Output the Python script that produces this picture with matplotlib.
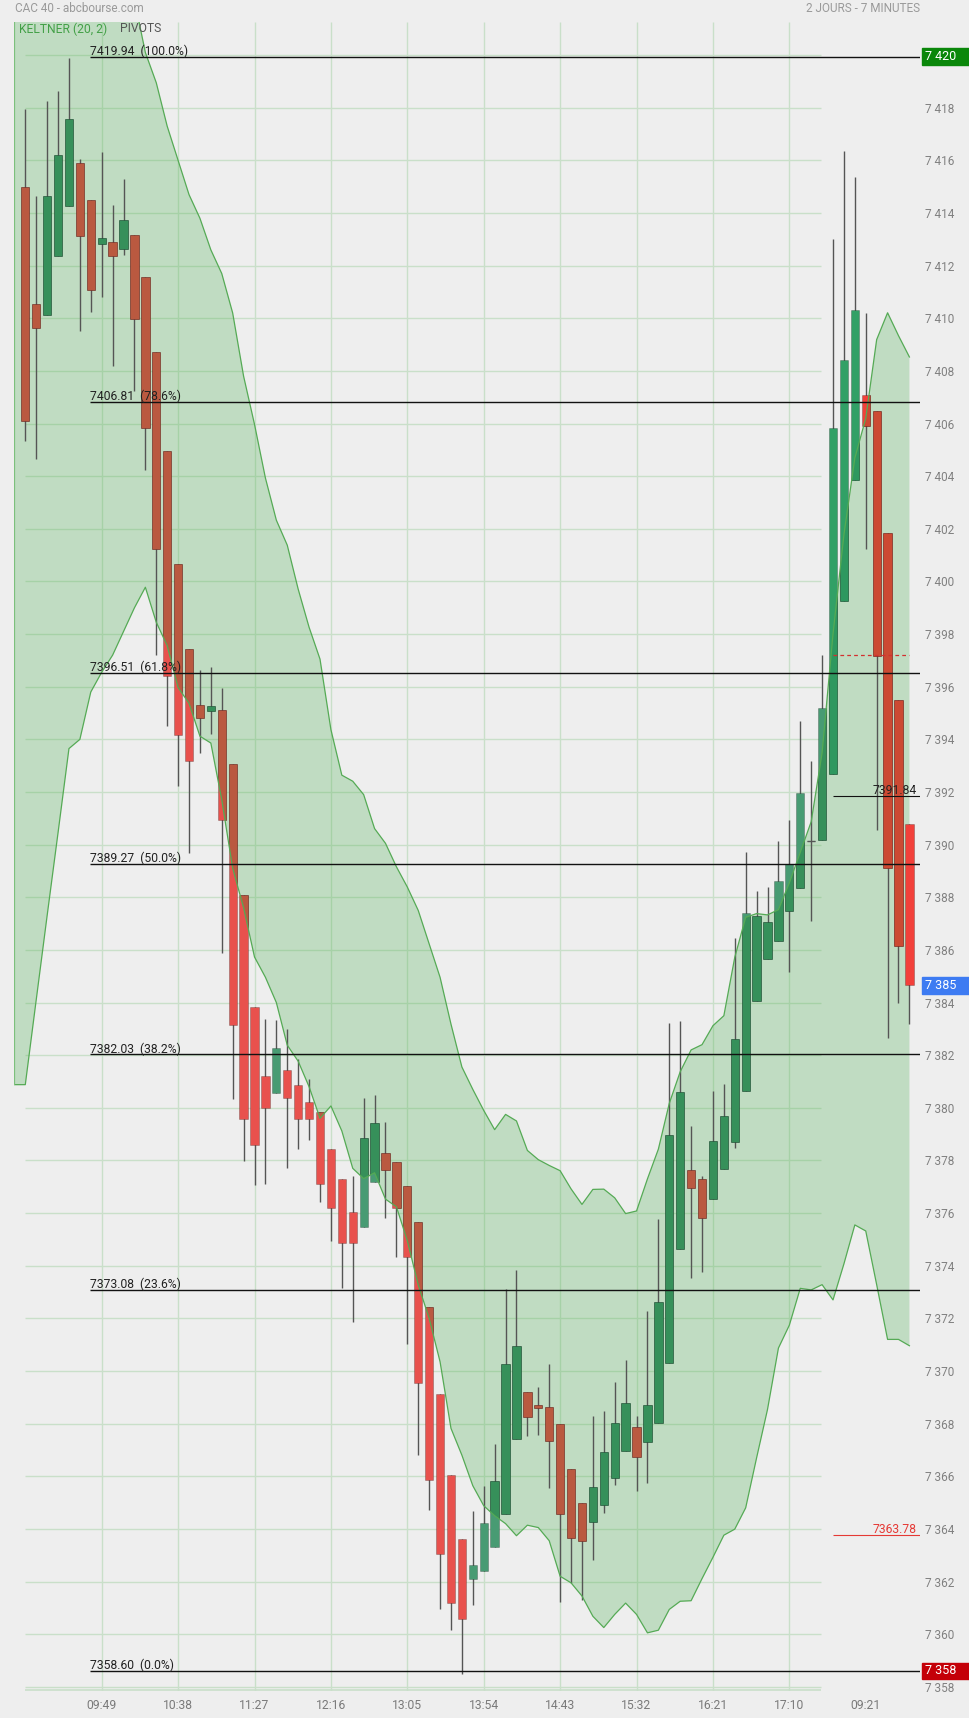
import matplotlib
matplotlib.use('Agg')
import matplotlib.pyplot as plt
import numpy as np
from matplotlib.patches import Rectangle, Polygon

# police
plt.rcParams['font.family'] = ['Roboto', 'DejaVu Sans']

# bougies 7 minutes (2 jours) - ouverture / plus haut / plus bas / cloture
opens = [7414.99, 7410.55, 7410.11, 7412.35, 7414.28, 7415.91, 7414.50, 7412.81, 7412.91, 7412.65,
         7413.17, 7411.58, 7408.72, 7404.97, 7400.67, 7397.44, 7395.31, 7395.07, 7395.13, 7393.06,
         7388.08, 7383.84, 7381.21, 7380.56, 7381.44, 7380.88, 7380.23, 7379.84, 7378.44, 7377.30,
         7376.05, 7375.49, 7377.17, 7378.29, 7377.93, 7377.04, 7375.67, 7372.44, 7369.13, 7366.05,
         7363.61, 7362.11, 7362.40, 7363.31, 7364.55, 7367.40, 7369.22, 7368.72, 7368.64, 7367.98,
         7366.27, 7364.98, 7364.26, 7364.90, 7365.93, 7366.95, 7367.86, 7367.30, 7368.02, 7370.29,
         7374.63, 7377.63, 7377.28, 7376.53, 7377.67, 7378.69, 7380.64, 7384.04, 7385.64, 7386.34,
         7387.47, 7388.34, 7390.15, 7390.18, 7392.68, 7399.25, 7403.84, 7407.10, 7406.49, 7401.84,
         7395.50, 7390.79]
highs = [7417.95, 7414.64, 7418.25, 7418.63, 7419.90, 7416.07, 7414.50, 7416.31, 7414.30, 7415.31,
         7413.17, 7411.58, 7408.72, 7404.97, 7400.67, 7397.44, 7396.62, 7396.74, 7395.97, 7393.06,
         7388.08, 7383.84, 7383.39, 7383.32, 7382.98, 7381.84, 7381.08, 7379.84, 7378.44, 7377.30,
         7377.40, 7380.38, 7380.48, 7379.46, 7377.93, 7377.04, 7375.67, 7372.44, 7369.13, 7366.05,
         7363.61, 7364.68, 7365.63, 7367.22, 7373.12, 7373.85, 7369.22, 7369.39, 7370.27, 7367.98,
         7366.27, 7364.98, 7368.29, 7368.48, 7369.59, 7370.42, 7368.29, 7372.28, 7375.79, 7383.23,
         7383.31, 7379.32, 7377.42, 7380.62, 7380.91, 7386.45, 7389.71, 7388.23, 7388.40, 7390.15,
         7390.93, 7394.68, 7393.17, 7397.21, 7413.03, 7416.35, 7415.36, 7410.21, 7406.49, 7401.84,
         7395.50, 7390.79]
lows = [7405.34, 7404.67, 7410.11, 7412.35, 7414.28, 7409.53, 7410.25, 7410.82, 7408.20, 7412.41,
        7407.25, 7404.25, 7397.22, 7394.52, 7392.23, 7389.68, 7393.50, 7394.22, 7385.88, 7380.34,
        7377.99, 7377.08, 7377.12, 7380.56, 7377.70, 7378.43, 7378.79, 7376.41, 7374.93, 7373.17,
        7371.85, 7375.49, 7377.17, 7375.80, 7374.35, 7371.02, 7366.81, 7364.73, 7360.96, 7360.15,
        7358.47, 7361.09, 7362.40, 7363.31, 7364.55, 7367.40, 7367.53, 7367.57, 7365.54, 7361.22,
        7361.95, 7361.31, 7362.80, 7364.61, 7365.67, 7366.95, 7365.44, 7365.73, 7368.02, 7370.29,
        7374.63, 7373.52, 7373.76, 7376.53, 7377.67, 7378.46, 7380.64, 7384.04, 7385.64, 7386.34,
        7385.15, 7388.34, 7387.09, 7390.18, 7392.68, 7399.25, 7403.84, 7401.23, 7390.56, 7382.65,
        7383.98, 7383.17]
closes = [7406.08, 7409.65, 7414.64, 7416.19, 7417.56, 7413.13, 7411.08, 7413.05, 7412.35, 7413.74,
          7409.99, 7405.84, 7401.23, 7396.42, 7394.18, 7393.19, 7394.80, 7395.25, 7390.94, 7383.16,
          7379.59, 7378.60, 7379.98, 7382.29, 7380.36, 7379.56, 7379.56, 7377.10, 7376.18, 7374.86,
          7374.88, 7378.85, 7379.44, 7377.63, 7376.18, 7374.35, 7369.53, 7365.85, 7363.05, 7361.19,
          7360.56, 7362.64, 7364.22, 7365.83, 7370.27, 7370.96, 7368.25, 7368.58, 7367.34, 7364.55,
          7363.64, 7363.54, 7365.60, 7366.91, 7368.02, 7368.79, 7366.72, 7368.72, 7372.63, 7378.97,
          7380.60, 7376.97, 7375.81, 7378.75, 7379.70, 7382.62, 7387.41, 7387.30, 7387.07, 7388.61,
          7389.25, 7391.95, 7390.15, 7395.18, 7405.85, 7408.41, 7410.33, 7405.91, 7397.16, 7389.13,
          7386.14, 7384.65]
first_day_count = 74

# Keltner (20, 2), commence une bougie avant la premiere
band_start = -1
keltner_upper = [7436.0,
                 7435.0, 7434.0, 7433.0, 7432.0, 7431.0, 7429.5, 7428.0, 7426.5, 7425.0, 7423.6,
                 7422.1, 7420.1, 7418.95, 7417.3, 7416.0, 7414.7, 7413.8, 7412.6, 7411.7, 7410.2,
                 7407.8, 7405.97, 7403.93, 7402.33, 7401.38, 7399.71, 7398.26, 7397.05, 7394.37, 7392.64,
                 7392.41, 7391.90, 7390.61, 7390.05, 7389.16, 7388.39, 7387.50, 7386.23, 7384.96, 7383.18,
                 7381.55, 7380.70, 7379.90, 7379.17, 7379.75, 7379.50, 7378.38, 7378.03, 7377.81, 7377.61,
                 7376.92, 7376.33, 7376.90, 7376.91, 7376.58, 7375.98, 7376.08, 7377.30, 7378.43, 7380.17,
                 7381.37, 7382.20, 7382.40, 7383.12, 7383.50, 7385.72, 7387.24, 7387.38, 7387.33, 7387.53,
                 7388.55, 7389.71, 7390.87, 7393.49, 7398.00, 7401.78, 7404.69, 7406.20, 7409.19, 7410.21,
                 7409.34, 7408.53]
keltner_lower = [7380.88,
                 7380.88, 7384.10, 7387.30, 7390.45, 7393.65, 7394.00, 7395.80, 7396.55, 7397.20, 7398.10,
                 7399.00, 7399.78, 7398.45, 7397.56, 7395.97, 7395.37, 7394.12, 7393.86, 7391.70, 7389.10,
                 7387.60, 7385.73, 7384.96, 7384.00, 7382.38, 7381.77, 7380.80, 7379.60, 7380.07, 7379.12,
                 7377.70, 7377.31, 7377.53, 7376.53, 7376.24, 7374.95, 7373.27, 7372.00, 7370.35, 7367.82,
                 7366.80, 7365.64, 7364.88, 7364.50, 7364.20, 7363.74, 7364.14, 7364.05, 7363.55, 7362.20,
                 7361.95, 7361.45, 7360.68, 7360.25, 7360.75, 7361.18, 7360.75, 7360.05, 7360.15, 7360.94,
                 7361.25, 7361.27, 7362.11, 7362.92, 7363.76, 7363.99, 7364.80, 7366.70, 7368.54, 7370.87,
                 7371.74, 7373.14, 7373.08, 7373.28, 7372.70, 7374.07, 7375.55, 7375.32, 7373.28, 7371.20,
                 7371.20, 7370.96]

# pivots (retracements)
pivot_levels = [7419.94, 7406.81, 7396.51, 7389.27, 7382.03, 7373.08, 7358.60]
pivot_pcts = ['100.0%', '78.6%', '61.8%', '50.0%', '38.2%', '23.6%', '0.0%']
resistance = 7391.84
support = 7363.78
prev_close = 7397.19
last_price = 7384.65

# axe des temps
time_ticks = [7, 14, 21, 28, 35, 42, 49, 56, 63, 70, 77]
time_labels = ['09:49', '10:38', '11:27', '12:16', '13:05', '13:54', '14:43', '15:32', '16:21', '17:10', '09:21']
price_ticks = list(range(7358, 7421, 2))

W, H = 969, 1718
BG = '#EEEEEE'
GRID = '#C9DFC9'
BAND = '#4CAF50'

fig = plt.figure(figsize=(W / 100, H / 100), dpi=100, facecolor=BG)
ax = fig.add_axes([14 / W, 1 - 1691 / H, 906 / W, (1691 - 21.7) / H])
ax.set_facecolor(BG)
ax.set_xlim(-1.035, 81.97)
ax.set_ylim(7357.84, 7421.27)
y0, y1 = ax.get_ylim()
for s in ax.spines.values():
    s.set_visible(False)

# grille (s'arrete a la fin de la premiere seance)
grid_end = 72.9
ax.hlines(price_ticks, 0, grid_end, color=GRID, lw=1, zorder=0.5)
ax.hlines(y0 + 0.03, 0, grid_end, color=GRID, lw=1.2, zorder=0.5)
ax.vlines(time_ticks[:-1], y0, y1, color=GRID, lw=1, zorder=0.5)

# bande de Keltner
xb = np.arange(len(keltner_upper)) + band_start
ax.fill_between(xb, keltner_lower, keltner_upper, color=BAND, alpha=0.28, lw=0, zorder=1)
ax.plot(xb, keltner_upper, color='#55AA55', lw=0.9, zorder=3)
ax.plot(xb, keltner_lower, color='#55AA55', lw=0.9, zorder=3)
ax.vlines(xb[0], keltner_lower[0], y1, color='#7CC07C', lw=1.6, zorder=3)
band_poly = Polygon(list(zip(xb, keltner_upper)) + list(zip(xb[::-1], keltner_lower[::-1])),
                    closed=True, transform=ax.transData)

# bougies
o = np.array(opens); c = np.array(closes)
x = np.arange(len(o))
up = c >= o
day1 = x < first_day_count
col_out = np.where(up, np.where(day1, '#489B73', '#31A066'), np.where(day1, '#E8514D', '#F2403A'))
col_in = np.where(up, np.where(day1, '#36905A', '#2E985F'), np.where(day1, '#BA5940', '#CC4A33'))
bottom = np.minimum(o, c)
height = np.abs(c - o)
width = 0.76

ax.vlines(x, lows, highs, color='#555555', lw=1, zorder=1.8)
ax.bar(x, height, width, bottom=bottom, color=col_out, edgecolor=(0, 0, 0, 0.25), lw=0.6, zorder=2)
bars_in = ax.bar(x[:-1], height[:-1], width, bottom=bottom[:-1], color=col_in[:-1],
                 edgecolor=(0, 0, 0, 0.25), lw=0.6, zorder=2.2)
for b in bars_in:
    b.set_clip_path(band_poly)
doji = height < 0.02
ax.hlines(c[doji], x[doji] - width / 2, x[doji] + width / 2, color='#555555', lw=1, zorder=2.3)

# pivots
x_right = ax.get_xlim()[1]
pivot_x0 = 5.93
ax.hlines(pivot_levels, pivot_x0, x_right, color='#111111', lw=1, zorder=4)
for lev, pct in zip(pivot_levels, pivot_pcts):
    ax.text(pivot_x0, lev + 0.07, f'{lev:.2f}  ({pct})', fontsize=8.7, color='#222222',
            va='baseline', ha='left', zorder=4)

ax.hlines(resistance, 74.0, x_right, color='#111111', lw=0.8, zorder=4)
ax.text(81.7, resistance + 0.08, f'{resistance:.2f}', fontsize=8.7, color='#222222',
        va='baseline', ha='right', zorder=4)
ax.hlines(support, 74.0, x_right, color='#E53935', lw=0.8, zorder=4)
ax.text(81.7, support + 0.08, f'{support:.2f}', fontsize=8.7, color='#E53935',
        va='baseline', ha='right', zorder=4)
ax.hlines(prev_close, 74.0, len(o) - 1, color='#D32F2F', lw=0.9, linestyles=(0, (3, 2.5)), zorder=4)

# axes
ax.yaxis.tick_right()
ax.set_yticks(price_ticks)
ax.set_yticklabels([f'{v // 1000} {v % 1000:03d}' for v in price_ticks])
ax.tick_params(axis='y', length=0, pad=3.6, labelsize=8.5, labelcolor='#808080')
ax.set_xticks(time_ticks)
ax.set_xticklabels(time_labels)
ax.tick_params(axis='x', length=0, pad=6, labelsize=8.7, labelcolor='#7A7A7A')


def price_box(value, label, color):
    ax.add_patch(Rectangle((82.16, value - 0.315), 4.5, 0.63, transform=ax.transData,
                           clip_on=False, color=color, zorder=10))
    ax.text(82.45, value, label, color='white', fontsize=9, va='center', ha='left',
            clip_on=False, zorder=11)


def fmt(v):
    v = int(v)
    return f'{v // 1000} {v % 1000:03d}'


price_box(pivot_levels[0], fmt(np.ceil(pivot_levels[0])), '#0A870A')
price_box(last_price, fmt(round(last_price)), '#3D7BF2')
price_box(pivot_levels[-1], fmt(np.floor(pivot_levels[-1])), '#C40008')

# titres
fig.text(15 / W, 1 - 8 / H, 'CAC 40 - abcbourse.com', fontsize=8.5, color='#9A9A9A', va='center')
fig.text(920 / W, 1 - 8 / H, '2 JOURS - 7 MINUTES', fontsize=8.5, color='#9A9A9A', va='center', ha='right')
fig.text(19 / W, 1 - 29 / H, 'KELTNER (20, 2)', fontsize=8.7, color='#43A047', va='center')
fig.text(120 / W, 1 - 29 / H, 'PIVOTS', fontsize=8.7, color='#555555', va='center')

fig.savefig('out.png', dpi=100, facecolor=BG)
